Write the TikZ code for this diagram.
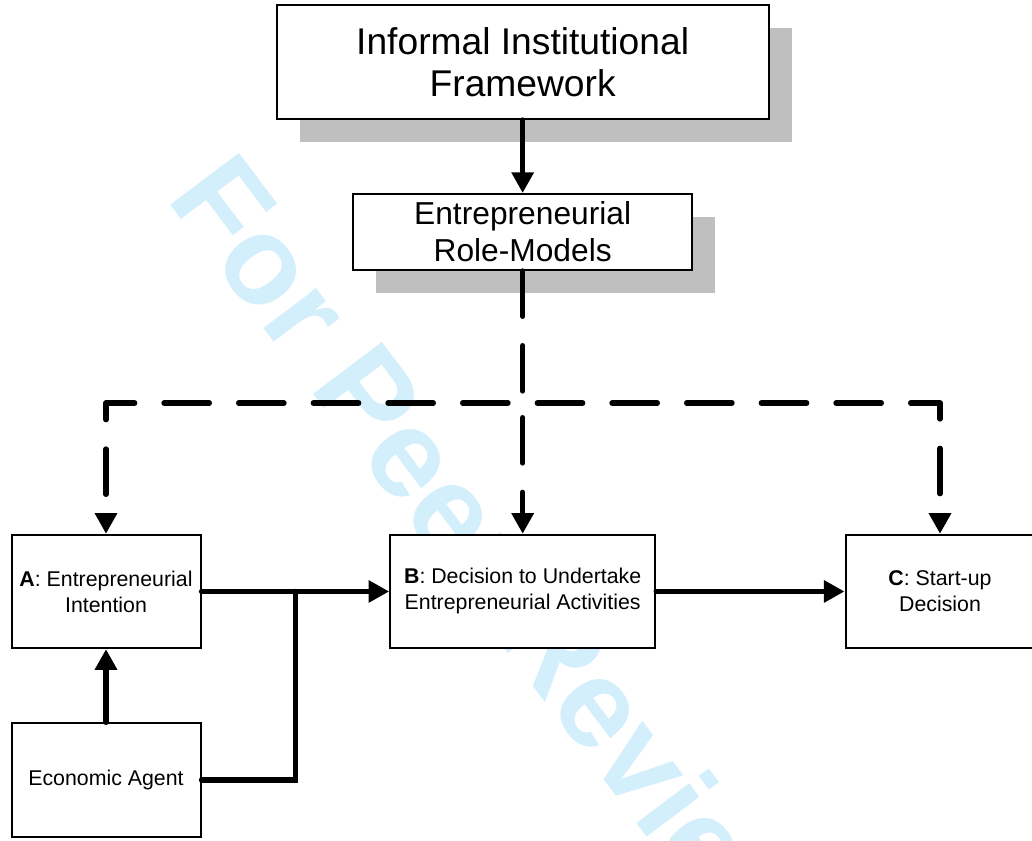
\documentclass[tikz,border=0pt]{standalone}
\usepackage{fontspec}
\setmainfont{Liberation Sans}
\usetikzlibrary{arrows.meta, shadows}
\definecolor{stamp}{RGB}{212,239,252}
\tikzstyle{boxshadow} = [general shadow={fill=black!25, shadow xshift=17.25pt, shadow yshift=-17.25pt}]
\tikzstyle{bigbox} = [rectangle, boxshadow, minimum width=369pt, minimum height=85.5pt, align=center, draw=black, line width=1.5pt, fill=white, font=\fontsize{27.9}{31.5}\selectfont]
\tikzstyle{midbox} = [rectangle, boxshadow, minimum width=254pt, minimum height=57pt, align=center, draw=black, line width=1.5pt, fill=white, font=\fontsize{23.8}{27.75}\selectfont]
\tikzstyle{stagebox} = [rectangle, minimum width=141.75pt, minimum height=85pt, align=center, draw=black, line width=1.5pt, fill=white, font=\fontsize{16}{19.5}\selectfont]
\tikzstyle{link} = [line width=4pt, line cap=round]
\tikzstyle{arrow} = [link, -{Triangle[length=15.5pt,width=16pt]}]
\tikzstyle{dashlink} = [link, line join=round, dash pattern=on 34pt off 22pt]
\tikzstyle{dasharrow} = [arrow, line join=round, dash pattern=on 34pt off 22pt, dash phase=45pt]

\begin{document}
\begin{tikzpicture}
\useasboundingbox (0,0) rectangle (774pt,-630.75pt);
\node (watermark) [rotate=-53, anchor=base west, text=stamp, font=\bfseries\fontsize{94}{94}\selectfont] at (122.25pt,-146.25pt) {For Peer Review};

\node (decide) [stagebox, minimum width=198.75pt] at (392pt,-443.6pt) {\textbf{B}: Decision to Undertake\\Entrepreneurial Activities};
\node (intent) [stagebox, node distance=312.5pt, left of=decide] {\textbf{A}: Entrepreneurial\\Intention};
\node (startup) [stagebox, node distance=313pt, right of=decide] {\textbf{C}: Start-up\\Decision};
\node (agent) [stagebox, node distance=141.4pt, below of=intent] {Economic Agent};
\node (role) [midbox, node distance=269.6pt, above of=decide] {Entrepreneurial\\Role-Models};
\node (frame) [bigbox, node distance=127.5pt, above of=role] {Informal Institutional\\Framework};

\node (fork) [coordinate, node distance=128.25pt, below of=role] {};
\node (merge) [coordinate, node distance=142.1pt, right of=intent] {};

 \draw [arrow] (frame) -- (role);
 \draw [dashlink] (role) -- (fork);
 \draw [dasharrow] (fork) -| (intent);
 \draw [dasharrow] (fork) -| (startup);
 \draw [dasharrow] (fork) -- (decide);

 \draw [arrow] (intent) -- (decide);
 \draw [arrow] (decide) -- (startup);
 \draw [arrow] (agent) -- (intent);
 \draw [link] (agent) -| (merge);

\end{tikzpicture}
\end{document}
